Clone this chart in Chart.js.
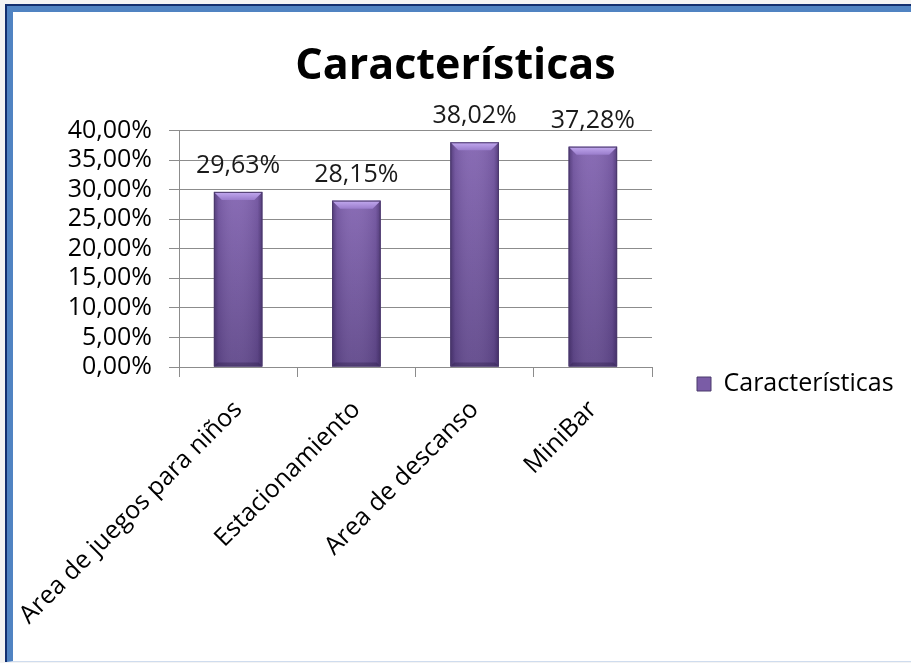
<!DOCTYPE html>
<html>
<head>
<meta charset="utf-8">
<title>Características</title>
<script src="https://cdn.jsdelivr.net/npm/chart.js@4.4.1/dist/chart.umd.min.js"></script>
<style>
  html, body { margin: 0; padding: 0; width: 911px; height: 663px; overflow: hidden; background: #f3f3f3; }
  /* marco azul de la hoja */
  #marco { position: absolute; left: 5px; top: 4px; width: 1000px; height: 658px;
           border-top: 2px solid #132f6f; border-left: 2px solid #132f6f; box-sizing: border-box; }
  #marco-int { width: 100%; height: 100%; box-sizing: border-box; background: #fff;
               border-top: 6px solid #5083c2; border-left: 6px solid #5083c2; border-bottom: 1px solid #cfdcee; }
  #grafico { position: absolute; left: 0; top: 0; }
</style>
</head>
<body>
<div id="marco"><div id="marco-int"></div></div>
<canvas id="grafico" width="911" height="663"></canvas>
<script>
// datos del gráfico
const categorias = ['Area de juegos para niños', 'Estacionamiento', 'Area de descanso', 'MiniBar'];
const porcentajes = [29.63, 28.15, 38.02, 37.28];
const nombreSerie = 'Características';
const ejeYMin = 0;
const ejeYMax = 40;
const ejeYPaso = 5;

const FUENTE = "'Open Sans'";
const TAM = 25;

function formatoPorcentaje(v) {
    return v.toFixed(2).replace('.', ',') + '%';
}

// sombreado tipo bisel sobre cada barra
function pintarBarra(ctx, b) {
    const l = b.x - b.width / 2, r = b.x + b.width / 2;
    const t = Math.min(b.y, b.base), base = Math.max(b.y, b.base);
    const w = r - l, h = base - t;

    const vert = ctx.createLinearGradient(0, t, 0, base);
    vert.addColorStop(0, '#8466b2');
    vert.addColorStop(1, '#624a8c');
    ctx.fillStyle = vert;
    ctx.fillRect(l, t, w, h);

    const horiz = ctx.createLinearGradient(l, 0, r, 0);
    horiz.addColorStop(0, 'rgba(30,15,60,0.45)');
    horiz.addColorStop(0.1, 'rgba(30,15,60,0.12)');
    horiz.addColorStop(0.45, 'rgba(255,255,255,0.04)');
    horiz.addColorStop(0.9, 'rgba(30,15,60,0.12)');
    horiz.addColorStop(1, 'rgba(30,15,60,0.45)');
    ctx.fillStyle = horiz;
    ctx.fillRect(l, t, w, h);

    const bis = 8;
    const sup = ctx.createLinearGradient(0, t, 0, t + bis);
    sup.addColorStop(0, '#c3aaf0');
    sup.addColorStop(1, '#9a7dcc');
    ctx.fillStyle = sup;
    ctx.beginPath();
    ctx.moveTo(l, t);
    ctx.lineTo(r, t);
    ctx.lineTo(r - bis, t + bis);
    ctx.lineTo(l + bis, t + bis);
    ctx.closePath();
    ctx.fill();

    ctx.fillStyle = 'rgba(40,25,70,0.35)';
    ctx.beginPath();
    ctx.moveTo(l, base);
    ctx.lineTo(r, base);
    ctx.lineTo(r - 4, base - 4);
    ctx.lineTo(l + 4, base - 4);
    ctx.closePath();
    ctx.fill();

    ctx.strokeStyle = '#4b3a6c';
    ctx.lineWidth = 1;
    ctx.strokeRect(l + 0.5, t + 0.5, w - 1, h - 1);
}

const barrasBisel = {
    id: 'barrasBisel',
    afterDatasetsDraw(chart) {
        const ctx = chart.ctx;
        const meta = chart.getDatasetMeta(0);
        ctx.save();
        meta.data.forEach(b => pintarBarra(ctx, b));
        // etiquetas de valor encima de cada barra
        ctx.font = TAM + 'px ' + FUENTE;
        ctx.fillStyle = '#1a1a1a';
        ctx.textAlign = 'center';
        ctx.textBaseline = 'alphabetic';
        meta.data.forEach((b, i) => {
            ctx.fillText(formatoPorcentaje(porcentajes[i]), b.x, b.y - 19);
        });
        ctx.restore();
    }
};

// leyenda con ancho fijo y centrada junto al pie del eje
const leyendaFija = {
    id: 'leyendaFija',
    beforeLayout(chart) {
        const leg = chart.legend;
        if (leg && !leg._anchoFijo) {
            const fitOriginal = leg.fit;
            leg.fit = function () {
                fitOriginal.call(this);
                this.width = 259;
            };
            leg._anchoFijo = true;
        }
    },
    afterLayout(chart) {
        const leg = chart.legend;
        const h = leg.bottom - leg.top;
        leg.top = 384 - h / 2;
        leg.bottom = leg.top + h;
    }
};

new Chart(document.getElementById('grafico'), {
    type: 'bar',
    data: {
        labels: categorias,
        datasets: [{
            label: nombreSerie,
            data: porcentajes,
            backgroundColor: '#7a5ca6',
            borderColor: '#4b3a6c',
            borderWidth: 1,
            categoryPercentage: 1,
            barPercentage: 0.41
        }]
    },
    options: {
        responsive: false,
        animation: false,
        events: [],
        layout: { padding: { left: 0, right: 0, top: 0, bottom: 0 } },
        scales: {
            x: {
                grid: {
                    drawOnChartArea: false,
                    drawTicks: true,
                    tickLength: 10,
                    color: '#8c8c8c',
                    offset: true
                },
                border: { color: '#8c8c8c' },
                ticks: {
                    color: '#000',
                    font: { family: FUENTE, size: TAM },
                    minRotation: 45,
                    maxRotation: 45,
                    padding: 18,
                    autoSkip: false
                },
                afterFit(s) {
                    s.height = 296;
                    // las etiquetas inclinadas pueden salirse por la izquierda
                    s.paddingLeft = 0;
                    s.paddingRight = 0;
                }
            },
            y: {
                min: ejeYMin,
                max: ejeYMax,
                grid: {
                    color: '#8c8c8c',
                    tickLength: 10
                },
                border: { color: '#8c8c8c' },
                ticks: {
                    stepSize: ejeYPaso,
                    autoSkip: false,
                    color: '#000',
                    font: { family: FUENTE, size: TAM },
                    padding: 17,
                    callback: v => formatoPorcentaje(v)
                },
                afterFit(s) { s.width = 179; }
            }
        },
        plugins: {
            title: {
                display: true,
                text: 'Características',
                color: '#000',
                font: { family: FUENTE, size: 43, weight: 'bold' },
                padding: { top: 41, bottom: 38 }
            },
            legend: {
                position: 'right',
                labels: {
                    color: '#000',
                    font: { family: FUENTE, size: TAM },
                    boxWidth: 14,
                    boxHeight: 14,
                    padding: 45
                }
            },
            tooltip: { enabled: false }
        }
    },
    plugins: [barrasBisel, leyendaFija]
});
</script>
</body>
</html>
